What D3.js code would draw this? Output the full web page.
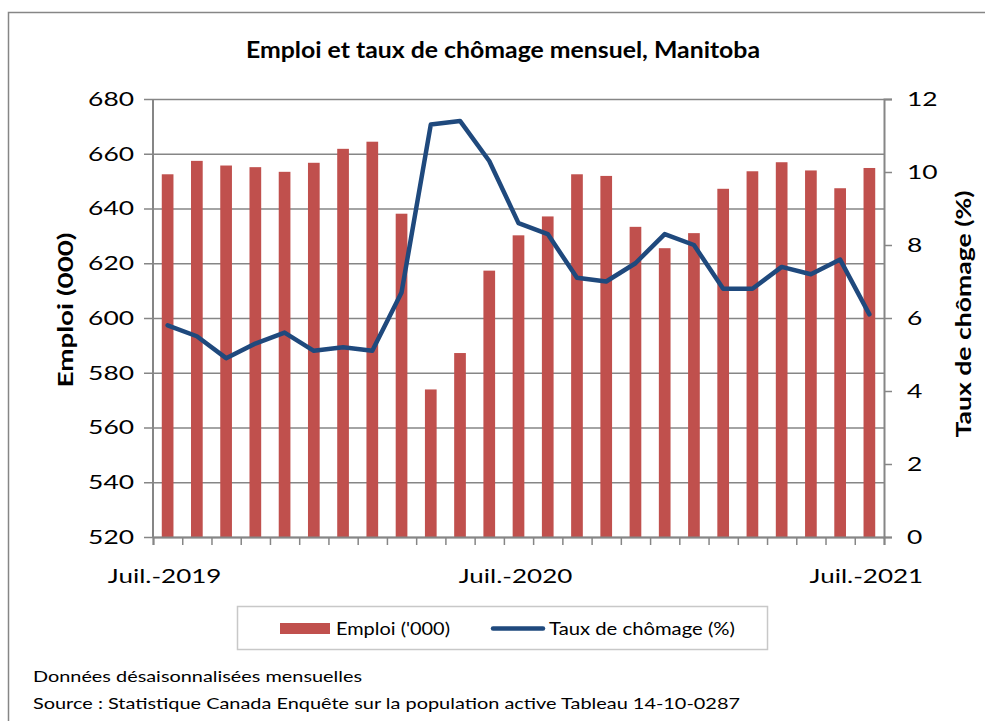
<!DOCTYPE html>
<html>
<head>
<meta charset="utf-8">
<script src="https://cdn.jsdelivr.net/npm/d3@7"></script>
<style>
  body { margin: 0; background: #fff; }
  text { font-family: Lato, "Open Sans", sans-serif; fill: #000; }
</style>
</head>
<body>
<svg id="chart" width="985" height="721"></svg>
<script>
// monthly data, juil. 2019 -> juil. 2021
var months = ["2019-07","2019-08","2019-09","2019-10","2019-11","2019-12",
              "2020-01","2020-02","2020-03","2020-04","2020-05","2020-06",
              "2020-07","2020-08","2020-09","2020-10","2020-11","2020-12",
              "2021-01","2021-02","2021-03","2021-04","2021-05","2021-06","2021-07"];
var emploi = [652.5, 657.4, 655.7, 655.1, 653.4, 656.7, 661.8, 664.4, 638.1, 573.9, 587.2, 617.3,
              630.2, 637.1, 652.5, 651.9, 633.3, 625.5, 631.0, 647.2, 653.6, 656.9, 653.9, 647.4, 654.8];
var chomage = [5.8, 5.5, 4.9, 5.3, 5.6, 5.1, 5.2, 5.1, 6.7, 11.3, 11.4, 10.3,
               8.6, 8.3, 7.1, 7.0, 7.5, 8.3, 8.0, 6.8, 6.8, 7.4, 7.2, 7.6, 6.1];
var xLabels = {"2019-07": "Juil.-2019", "2020-07": "Juil.-2020", "2021-07": "Juil.-2021"};
var leftTicks = [520, 540, 560, 580, 600, 620, 640, 660, 680];
var rightTicks = [0, 2, 4, 6, 8, 10, 12];

var svg = d3.select("#chart");
var margin = {left: 153, right: 884, top: 99, bottom: 537};
var grey = "#868686";
var wide = 1.32;   // the original text is set wider than Lato

// widen text glyphs horizontally
function stretch(sel, k) {
  sel.each(function() {
    var w = this.getComputedTextLength();
    d3.select(this)
        .attr("textLength", w * k)
        .attr("lengthAdjust", "spacingAndGlyphs");
  });
}

// outer frame
svg.append("rect")
    .attr("x", 8.5).attr("y", 12.5)
    .attr("width", 1000).attr("height", 800)
    .attr("fill", "none")
    .attr("stroke", grey)
    .attr("stroke-width", 1.5);

svg.append("text")
    .attr("x", 503).attr("y", 58)
    .attr("text-anchor", "middle")
    .attr("font-size", "22px")
    .attr("font-weight", "bold")
    .attr("textLength", 514)
    .attr("lengthAdjust", "spacingAndGlyphs")
    .text("Emploi et taux de chômage mensuel, Manitoba");

var x = d3.scaleBand()
          .domain(months)
          .range([margin.left, margin.right])
          .paddingInner(0.6)
          .paddingOuter(0.3);

var xEdge = d3.scaleLinear()
              .domain([0, months.length])
              .range([margin.left, margin.right]);

var yLeft = d3.scaleLinear().domain([520, 680]).range([margin.bottom, margin.top]);
var yRight = d3.scaleLinear().domain([0, 12]).range([margin.bottom, margin.top]);

// gridlines + left axis
var leftAxis = svg.append("g")
    .attr("transform", "translate(" + margin.left + ",0)")
    .call(d3.axisLeft(yLeft).tickValues(leftTicks).tickSize(9).tickPadding(10))
    .call(g => g.select(".domain").remove());
leftAxis.selectAll(".tick line")
    .attr("x2", margin.right - margin.left)
    .attr("x1", -9)
    .attr("stroke", grey)
    .attr("stroke-width", 1.5);
leftAxis.selectAll(".tick text")
    .attr("font-size", "20px")
    .attr("font-family", "Lato, sans-serif")
    .call(stretch, wide);

// bars
svg.selectAll(".bar")
    .data(months)
  .enter()
  .append("rect")
    .classed("bar", true)
    .attr("x", d => x(d))
    .attr("width", x.bandwidth())
    .attr("y", (d, i) => yLeft(emploi[i]))
    .attr("height", (d, i) => margin.bottom - yLeft(emploi[i]))
    .attr("fill", "#C0504D");

// vertical axis lines
svg.append("line")
    .attr("x1", margin.left).attr("x2", margin.left)
    .attr("y1", margin.top).attr("y2", margin.bottom)
    .attr("stroke", grey).attr("stroke-width", 2);

var rightAxis = svg.append("g")
    .attr("transform", "translate(" + margin.right + ",0)")
    .call(d3.axisRight(yRight).tickValues(rightTicks).tickSize(8).tickPadding(15));
rightAxis.select(".domain").attr("stroke", grey).attr("stroke-width", 2);
rightAxis.selectAll(".tick line").attr("stroke", grey).attr("stroke-width", 1.5);
rightAxis.selectAll(".tick text")
    .attr("font-size", "20px")
    .attr("font-family", "Lato, sans-serif")
    .call(stretch, wide);

// bottom axis: ticks between months
var bottomAxis = svg.append("g")
    .attr("transform", "translate(0," + margin.bottom + ")")
    .call(d3.axisBottom(xEdge).tickValues(d3.range(months.length + 1))
            .tickSize(8).tickFormat(""));
bottomAxis.select(".domain").attr("stroke", grey).attr("stroke-width", 2);
bottomAxis.selectAll(".tick line").attr("stroke", grey).attr("stroke-width", 1.5);

svg.selectAll(".xlabel")
    .data(months.filter(m => xLabels[m]))
  .enter()
  .append("text")
    .classed("xlabel", true)
    .attr("x", d => x(d) + x.bandwidth() / 2 - 3)
    .attr("y", 583)
    .attr("text-anchor", "middle")
    .attr("font-size", "20px")
    .text(d => xLabels[d])
    .call(stretch, 1.3);

// unemployment line
var line = d3.line()
    .x(d => x(d) + x.bandwidth() / 2)
    .y((d, i) => yRight(chomage[i]));

svg.append("path")
    .datum(months)
    .attr("d", line)
    .attr("fill", "none")
    .attr("stroke", "#1F497D")
    .attr("stroke-width", 4.5)
    .attr("stroke-linejoin", "round")
    .attr("stroke-linecap", "round");

// axis titles
svg.append("text")
    .attr("transform", "translate(73,310) rotate(-90)")
    .attr("text-anchor", "middle")
    .attr("font-size", "20px")
    .attr("font-weight", "bold")
    .attr("textLength", 155)
    .attr("lengthAdjust", "spacingAndGlyphs")
    .text("Emploi (000)");

svg.append("text")
    .attr("transform", "translate(971,314) rotate(-90)")
    .attr("text-anchor", "middle")
    .attr("font-size", "20px")
    .attr("font-weight", "bold")
    .attr("textLength", 247)
    .attr("lengthAdjust", "spacingAndGlyphs")
    .text("Taux de chômage (%)");

// legend
var legend = svg.append("g");
legend.append("rect")
    .attr("x", 237.5).attr("y", 606.5)
    .attr("width", 530).attr("height", 43)
    .attr("fill", "#fff")
    .attr("stroke", "#c8c8c8")
    .attr("stroke-width", 1.5);
legend.append("rect")
    .attr("x", 280).attr("y", 623)
    .attr("width", 50).attr("height", 11)
    .attr("fill", "#C0504D");
legend.append("text")
    .attr("x", 336).attr("y", 635)
    .attr("font-size", "18px")
    .attr("textLength", 114)
    .attr("lengthAdjust", "spacingAndGlyphs")
    .text("Emploi ('000)");
legend.append("line")
    .attr("x1", 493).attr("x2", 543)
    .attr("y1", 628.5).attr("y2", 628.5)
    .attr("stroke", "#1F497D")
    .attr("stroke-width", 4.5)
    .attr("stroke-linecap", "round");
legend.append("text")
    .attr("x", 549).attr("y", 635)
    .attr("font-size", "18px")
    .attr("textLength", 186)
    .attr("lengthAdjust", "spacingAndGlyphs")
    .text("Taux de chômage (%)");

// notes
svg.append("text")
    .attr("x", 33).attr("y", 682)
    .attr("font-size", "16px")
    .attr("textLength", 329)
    .attr("lengthAdjust", "spacingAndGlyphs")
    .text("Données désaisonnalisées mensuelles");
svg.append("text")
    .attr("x", 33).attr("y", 709)
    .attr("font-size", "16px")
    .attr("textLength", 707)
    .attr("lengthAdjust", "spacingAndGlyphs")
    .text("Source : Statistique Canada Enquête sur la population active Tableau 14-10-0287");
</script>
</body>
</html>
